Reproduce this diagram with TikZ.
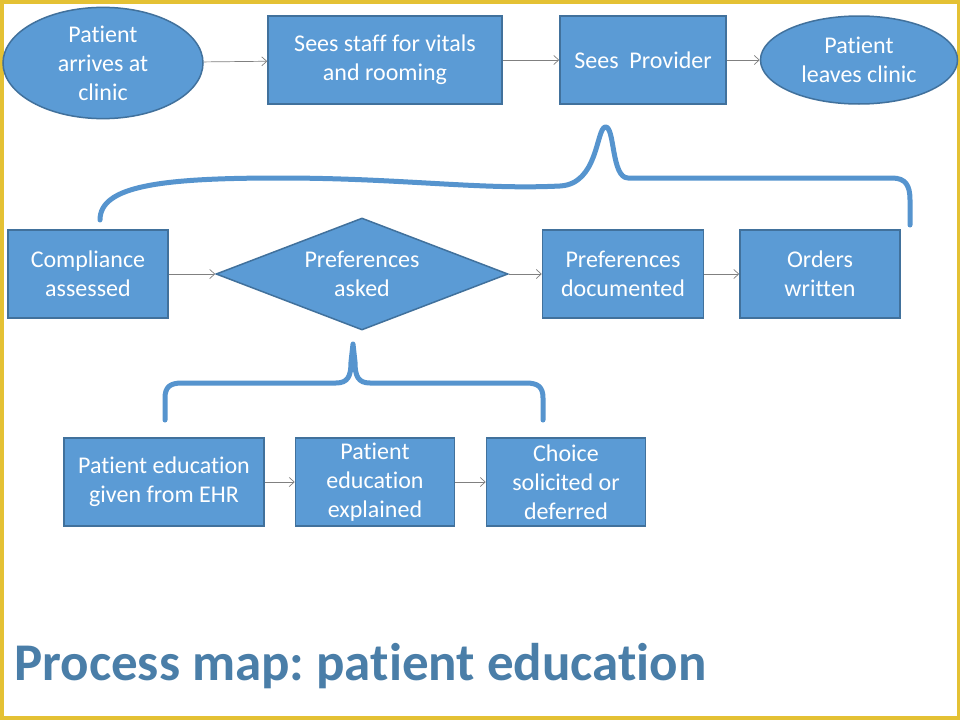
\documentclass[tikz,border=0pt]{standalone}
\usepackage{fontspec}
\setmainfont{Carlito}[Ligatures={NoCommon,NoRare,NoContextual},RawFeature={-liga,-clig,-dlig}]
\frenchspacing
\usetikzlibrary{shapes.geometric,arrows.meta}
\definecolor{boxfill}{RGB}{91,155,213}
\definecolor{boxline}{RGB}{65,113,156}
\definecolor{bracecol}{RGB}{86,148,206}
\definecolor{linkgray}{RGB}{128,128,128}
\definecolor{titleblue}{RGB}{74,126,168}
\definecolor{framey}{RGB}{228,193,52}
\begin{document}
\begin{tikzpicture}[x=1pt,y=-1pt,>={Straight Barb[length=5pt,width=9pt]},
  procbox/.style={draw=boxline, fill=boxfill, line width=1.5pt, text=white,
    minimum height=88pt, inner sep=2pt, align=center, font=\fontsize{24}{29}\selectfont},
  endpoint/.style={procbox, ellipse},
  decision/.style={procbox, diamond, aspect=2.6, inner sep=0pt},
  link/.style={->, linkgray, line width=0.7pt},
  brace/.style={bracecol, line width=5pt, line cap=round, line join=round}]
 \useasboundingbox (0,0) rectangle (960,720);
 \fill[white] (0,0) rectangle (960,720);
 \draw[framey, line width=3.5pt] (1.75,1.75) rectangle (958.25,718);

 % top row
 \node[endpoint, minimum width=200pt, minimum height=90pt] (arrive) at (103,63) {Patient\\arrives at\\clinic};
 \node[procbox, minimum width=234pt] (vitals) at (385,60) {Sees staff for vitals\\and rooming};
 \node[procbox, minimum width=166pt] (provider) at (643,60) {Sees\ \ Provider};
 \node[endpoint, minimum width=197pt] (leave) at (859,60) {Patient\\leaves clinic};
 \draw[link] (arrive) -- (vitals);
 \draw[link] (vitals) -- (provider);
 \draw[link] (provider) -- (leave);

 % provider brace
 \draw[brace] (100,220) .. controls (100,186) and (160,178) .. (280,178)
   .. controls (400,178) and (480,190) .. (560,186)
   .. controls (598,184) and (596,130) .. (605,127)
   .. controls (615,125) and (611,178) .. (628,178) -- (892,178)
   .. controls (906,178) and (910,186) .. (910,200) -- (910,225);

 % middle row
 \node[procbox, minimum width=160pt] (comply) at (88,274) {Compliance\\assessed};
 \node[decision, minimum width=292pt, minimum height=112pt] (asked) at (362,274) {Preferences\\asked};
 \node[procbox, minimum width=161pt] (documented) at (623,274) {Preferences\\documented};
 \node[procbox, minimum width=160pt] (orders) at (820,274) {Orders\\written};
 \draw[link] (comply) -- (asked);
 \draw[link] (asked) -- (documented);
 \draw[link] (documented) -- (orders);

 % preferences brace
 \draw[brace] (165,420) -- (165,398) .. controls (165,387) and (170,383) .. (182,383) -- (336,383)
   .. controls (348,383) and (351,376) .. (351,362) -- (353,344) -- (355,362)
   .. controls (355,376) and (358,383) .. (370,383) -- (526,383)
   .. controls (538,383) and (543,387) .. (543,398) -- (543,420);

 % bottom row
 \node[procbox, minimum width=200pt] (ehr) at (164,482) {Patient education\\given from EHR};
 \node[procbox, minimum width=159pt] (explained) at (375,482) {Patient\\education\\explained};
 \node[procbox, minimum width=159pt] (choice) at (566,482) {Choice\\solicited or\\deferred};
 \draw[link] (ehr) -- (explained);
 \draw[link] (explained) -- (choice);

 \node[anchor=base west, inner sep=0pt, text=titleblue, font=\fontsize{53}{60}\selectfont\bfseries] (title) at (14,680) {Process map: patient education};
\end{tikzpicture}
\end{document}
